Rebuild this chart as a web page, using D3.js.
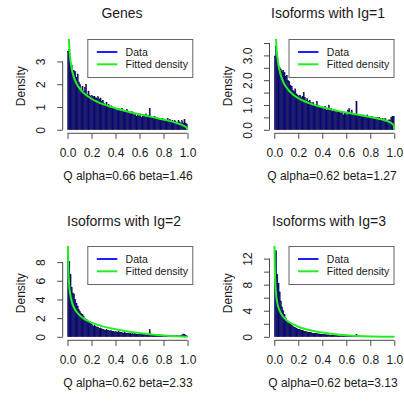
<!DOCTYPE html>
<html>
<head>
<meta charset="utf-8">
<script src="https://cdn.jsdelivr.net/npm/d3@7"></script>
<style>
  html, body { margin: 0; padding: 0; background: #fff; }
  svg { display: block; font-family: "Liberation Sans", Arial, Helvetica, sans-serif; }
</style>
</head>
<body>
<svg id="chart" width="404" height="401"></svg>
<script>
// ---- data -------------------------------------------------------------
const binWidth = 0.01;

const genesDensity = [
  3.45, 3.52, 2.90, 2.85, 2.60, 2.60, 2.55, 2.30, 2.45, 2.10,
  2.00, 1.75, 1.90, 1.70, 1.85, 2.00, 1.55, 1.70, 1.50, 1.45,
  1.50, 1.45, 1.45, 1.40, 1.40, 1.45, 1.35, 1.40, 1.25, 1.30,
  1.15, 1.10, 1.20, 1.05, 1.10, 0.95, 1.05, 0.95, 1.00, 0.90,
  0.90, 0.85, 0.95, 0.85, 0.90, 0.95, 0.80, 0.85, 0.75, 0.90,
  0.80, 0.75, 0.70, 0.80, 0.75, 0.65, 0.70, 0.60, 0.65, 0.60,
  0.70, 0.55, 0.60, 0.65, 0.60, 0.70, 0.55, 0.65, 0.95, 0.60,
  0.55, 0.50, 0.60, 0.50, 0.55, 0.45, 0.50, 0.40, 0.45, 0.50,
  0.40, 0.45, 0.40, 0.50, 0.40, 0.45, 0.35, 0.40, 0.35, 0.40,
  0.35, 0.30, 0.40, 0.35, 0.30, 0.40, 0.30, 0.45, 0.30, 0.25
];

const ig1Density = [
  2.98, 3.38, 2.90, 2.55, 2.50, 2.45, 2.35, 2.40, 2.30, 2.15,
  2.20, 2.00, 1.95, 1.80, 1.75, 1.60, 1.55, 1.65, 1.45, 1.40,
  1.35, 1.40, 1.30, 1.35, 1.50, 1.30, 1.20, 1.25, 1.15, 1.20,
  1.10, 1.05, 1.10, 1.00, 0.95, 1.15, 1.00, 0.95, 0.90, 0.95,
  0.85, 0.90, 0.95, 0.80, 0.85, 1.00, 0.80, 0.85, 0.75, 0.80,
  0.80, 0.70, 0.75, 0.70, 0.75, 0.65, 0.70, 0.60, 0.65, 0.70,
  0.60, 0.80, 0.85, 0.65, 0.80, 0.60, 0.65, 0.60, 1.15, 0.60,
  0.60, 0.55, 0.60, 0.55, 0.60, 0.50, 0.55, 0.60, 0.50, 0.55,
  0.50, 0.55, 0.50, 0.45, 0.50, 0.50, 0.45, 0.50, 0.45, 0.40,
  0.45, 0.40, 0.45, 0.40, 0.35, 0.40, 0.40, 0.50, 0.55, 0.55
];

const ig2Density = [
  9.10, 8.10, 6.70, 5.30, 4.70, 4.60, 4.00, 3.60, 3.30, 2.90,
  2.70, 2.50, 2.40, 2.20, 2.00, 1.90, 1.80, 1.50, 1.60, 1.40,
  1.30, 1.15, 1.20, 1.10, 1.00, 1.05, 0.90, 0.95, 0.85, 0.80,
  0.75, 0.70, 0.75, 0.65, 0.70, 0.60, 0.65, 0.55, 0.60, 0.50,
  0.55, 0.50, 0.55, 0.45, 0.50, 0.45, 0.40, 0.45, 0.40, 0.35,
  0.40, 0.35, 0.40, 0.30, 0.35, 0.30, 0.35, 0.30, 0.25, 0.30,
  0.25, 0.30, 0.35, 0.25, 0.30, 0.25, 0.30, 0.30, 0.75, 0.30,
  0.20, 0.25, 0.20, 0.20, 0.15, 0.20, 0.15, 0.20, 0.15, 0.20,
  0.15, 0.10, 0.15, 0.10, 0.15, 0.10, 0.10, 0.15, 0.10, 0.10,
  0.10, 0.15, 0.10, 0.10, 0.15, 0.20, 0.30, 0.25, 0.15, 0.10
];

const ig3Density = [
  12.9, 13.2, 9.60, 8.20, 6.90, 5.50, 4.60, 4.00, 3.40, 2.90,
  2.50, 2.30, 2.10, 1.90, 1.80, 1.60, 1.50, 1.40, 1.30, 1.20,
  1.15, 1.10, 1.00, 0.95, 0.90, 0.85, 0.80, 0.75, 0.70, 0.65,
  0.65, 0.60, 0.55, 0.55, 0.50, 0.50, 0.45, 0.45, 0.40, 0.40,
  0.40, 0.35, 0.35, 0.30, 0.30, 0.30, 0.25, 0.25, 0.25, 0.20,
  0.20, 0.20, 0.20, 0.15, 0.15, 0.15, 0.15, 0.15, 0.10, 0.10,
  0.10, 0.10, 0.10, 0.10, 0.10, 0.10, 0.10, 0.15, 0.35, 0.10,
  0.10, 0.05, 0.10, 0.05, 0.05, 0.05, 0.05, 0.10, 0.05, 0.05,
  0.05, 0.05, 0.10, 0.05, 0.05, 0.05, 0.05, 0.05, 0.10, 0.05,
  0.05, 0.05, 0.05, 0.05, 0.05, 0.10, 0.05, 0.10, 0.05, 0.05
];

// fitted beta densities, sampled along x
const fitX = [0.001, 0.002, 0.003, 0.005, 0.0075, 0.01, 0.015, 0.02, 0.03, 0.04,
  0.05, 0.075, 0.1, 0.125, 0.15, 0.2, 0.25, 0.3, 0.4, 0.5,
  0.6, 0.7, 0.8, 0.9, 0.95, 0.98, 0.995, 1.0];
const genesFit = [9.15, 7.22, 6.29, 5.28, 4.59, 4.16, 3.62, 3.27, 2.84, 2.56,
  2.36, 2.03, 1.82, 1.666, 1.545, 1.362, 1.226, 1.116, 0.943, 0.804,
  0.682, 0.567, 0.449, 0.314, 0.224, 0.145, 0.067, 0];
const ig1Fit = [10.14, 7.80, 6.68, 5.50, 4.71, 4.22, 3.61, 3.233, 2.764, 2.47,
  2.263, 1.926, 1.714, 1.563, 1.447, 1.276, 1.152, 1.055, 0.907, 0.793,
  0.697, 0.608, 0.518, 0.411, 0.334, 0.258, 0.177, 0];
const ig2Fit = [15.4, 11.78, 10.08, 8.28, 7.07, 6.32, 5.38, 4.79, 4.05, 3.58,
  3.245, 2.684, 2.32, 2.05, 1.843, 1.524, 1.285, 1.094, 0.799, 0.576,
  0.399, 0.257, 0.142, 0.054, 0.021, 0.006, 0.001, 0];
const ig3Fit = [18.6, 14.29, 12.22, 10.02, 8.54, 7.62, 6.46, 5.73, 4.80, 4.21,
  3.785, 3.065, 2.59, 2.24, 1.967, 1.55, 1.241, 1.0, 0.645, 0.402,
  0.233, 0.119, 0.048, 0.0104, 0.0023, 0.0002, 0, 0];

const titles = ["Genes", "Isoforms with Ig=1", "Isoforms with Ig=2", "Isoforms with Ig=3"];
const xLabels = ["Q alpha=0.66 beta=1.46", "Q alpha=0.62 beta=1.27",
                 "Q alpha=0.62 beta=2.33", "Q alpha=0.62 beta=3.13"];
const yTop = [3.83, 3.52, 9.35, 13.4];

const xTicks = [0, 0.2, 0.4, 0.6, 0.8, 1.0];
const xTickLabels = ["0.0", "0.2", "0.4", "0.6", "0.8", "1.0"];
const genesTicks = [0, 1, 2, 3];
const genesTickLabels = ["0", "1", "2", "3"];
const ig1Ticks = [0, 0.5, 1, 1.5, 2, 2.5, 3, 3.5];
const ig1TickLabels = ["0.0", "", "1.0", "", "2.0", "", "3.0", ""];
const ig2Ticks = [0, 2, 4, 6, 8];
const ig2TickLabels = ["0", "2", "4", "6", "8"];
const ig3Ticks = [0, 2, 4, 6, 8, 10, 12];
const ig3TickLabels = ["0", "", "4", "", "8", "", "12"];

const legendLabels = ["Data", "Fitted density"];
const yLabel = "Density";

// ---- layout ---------------------------------------------------------------
// pixel position of x = 0 and x = 1, plot top/bottom, title/legend placement
const frames = [
  { x0: 67.5,  x1: 187.5, top: 39,  bottom: 133.3, titleX: 122, titleY: 18.3, labX: 128,   labY: 179.5, tickY: 156.7, legRight: 193.3 },
  { x0: 274.3, x1: 394.3, top: 39,  bottom: 133.3, titleX: 328, titleY: 18.3, labX: 332,   labY: 179.5, tickY: 156.7, legRight: 394.5 },
  { x0: 67.5,  x1: 187.5, top: 246, bottom: 340.3, titleX: 124, titleY: 225.5, labX: 128,  labY: 386.5, tickY: 363.8, legRight: 193.3 },
  { x0: 274.3, x1: 394.3, top: 246, bottom: 340.3, titleX: 329, titleY: 225.5, labX: 333,  labY: 386.5, tickY: 363.8, legRight: 394.5 }
];

const panels = [
  { density: genesDensity, fit: genesFit, ticks: genesTicks, tickLabels: genesTickLabels },
  { density: ig1Density,   fit: ig1Fit,   ticks: ig1Ticks,   tickLabels: ig1TickLabels },
  { density: ig2Density,   fit: ig2Fit,   ticks: ig2Ticks,   tickLabels: ig2TickLabels },
  { density: ig3Density,   fit: ig3Fit,   ticks: ig3Ticks,   tickLabels: ig3TickLabels }
];

const svg = d3.select("#chart");
const TEXT = "#1a1a1a";
const AXIS = "#4a4a4a";
const BAR_FILL = "#0a0a85";
const BAR_EDGE = "#05053a";
const BLUE = "#1f1fff";
const GREEN = "#22ee22";

panels.forEach((p, i) => {
  const f = frames[i];
  const ppu = f.x1 - f.x0;
  const x = d3.scaleLinear().domain([-0.04, 1.04]).range([f.x0 - 0.04 * ppu, f.x1 + 0.04 * ppu]);
  const y = d3.scaleLinear().domain([-0.04 * yTop[i], 1.04 * yTop[i]]).range([f.bottom, f.top]);
  const left = x.range()[0], right = x.range()[1];

  const g = svg.append("g");
  const clipId = "clip" + i;
  g.append("clipPath").attr("id", clipId)
    .append("rect").attr("x", left).attr("y", f.top).attr("width", right - left).attr("height", f.bottom - f.top);

  // histogram bars
  g.append("g").selectAll("rect").data(p.density).join("rect")
    .attr("x", (d, k) => x(k * binWidth))
    .attr("width", x(binWidth) - x(0))
    .attr("y", d => y(d))
    .attr("height", d => y(0) - y(d))
    .attr("fill", BAR_FILL)
    .attr("stroke", BAR_EDGE)
    .attr("stroke-width", 0.35);

  // fitted density curve
  const line = d3.line().x(d => x(d[0])).y(d => y(d[1])).curve(d3.curveMonotoneX);
  g.append("path")
    .datum(fitX.map((v, k) => [v, p.fit[k]]))
    .attr("clip-path", `url(#${clipId})`)
    .attr("d", line)
    .attr("fill", "none")
    .attr("stroke", GREEN)
    .attr("stroke-width", 2);

  // x axis
  const xa = g.append("g").attr("transform", `translate(0,${f.bottom})`)
    .call(d3.axisBottom(x).tickValues(xTicks).tickFormat((d, k) => xTickLabels[k]).tickSize(5.5).tickSizeOuter(0));
  xa.select(".domain").remove();
  xa.append("line").attr("x1", x(xTicks[0])).attr("x2", x(xTicks[xTicks.length - 1]))
    .attr("stroke", AXIS);
  xa.selectAll(".tick line").attr("stroke", AXIS);
  xa.selectAll(".tick text")
    .attr("y", f.tickY - f.bottom).attr("dy", null)
    .attr("fill", TEXT).attr("font-size", 12).attr("font-family", null);

  // y axis
  const ya = g.append("g").attr("transform", `translate(${left},0)`)
    .call(d3.axisLeft(y).tickValues(p.ticks).tickFormat((d, k) => p.tickLabels[k]).tickSize(5.5).tickSizeOuter(0));
  ya.select(".domain").remove();
  ya.append("line").attr("y1", y(p.ticks[0])).attr("y2", y(p.ticks[p.ticks.length - 1]))
    .attr("stroke", AXIS);
  ya.selectAll(".tick line").attr("stroke", AXIS);
  ya.selectAll(".tick text")
    .attr("transform", "rotate(-90)")
    .attr("x", 0).attr("y", -17.5).attr("dy", null)
    .attr("text-anchor", "middle")
    .attr("fill", TEXT).attr("font-size", 12).attr("font-family", null);

  // y label
  g.append("text")
    .attr("transform", `translate(${left - 38},${(f.top + f.bottom) / 2}) rotate(-90)`)
    .attr("text-anchor", "middle").attr("font-size", 12).attr("fill", TEXT)
    .text(yLabel);

  // title and x label
  g.append("text").attr("x", f.titleX).attr("y", f.titleY)
    .attr("text-anchor", "middle").attr("font-size", 14).attr("fill", TEXT)
    .text(titles[i]);
  g.append("text").attr("x", f.labX).attr("y", f.labY)
    .attr("text-anchor", "middle").attr("font-size", 12).attr("fill", TEXT)
    .text(xLabels[i]);

  // legend
  const lw = 106, lh = 39;
  const lx = f.legRight - lw, ly = f.top;
  const lg = g.append("g");
  lg.append("rect").attr("x", lx + 0.5).attr("y", ly + 0.5).attr("width", lw - 1).attr("height", lh - 1)
    .attr("fill", "#fff").attr("stroke", "#666").attr("stroke-width", 1);
  [BLUE, GREEN].forEach((c, k) => {
    const cy = ly + 13 + k * 12.3;
    lg.append("line").attr("x1", lx + 9.5).attr("x2", lx + 30).attr("y1", cy).attr("y2", cy)
      .attr("stroke", c).attr("stroke-width", 2);
    lg.append("text").attr("x", lx + 38.3).attr("y", cy + 3.8)
      .attr("font-size", 10.5).attr("fill", TEXT)
      .text(legendLabels[k]);
  });
});
</script>
</body>
</html>
